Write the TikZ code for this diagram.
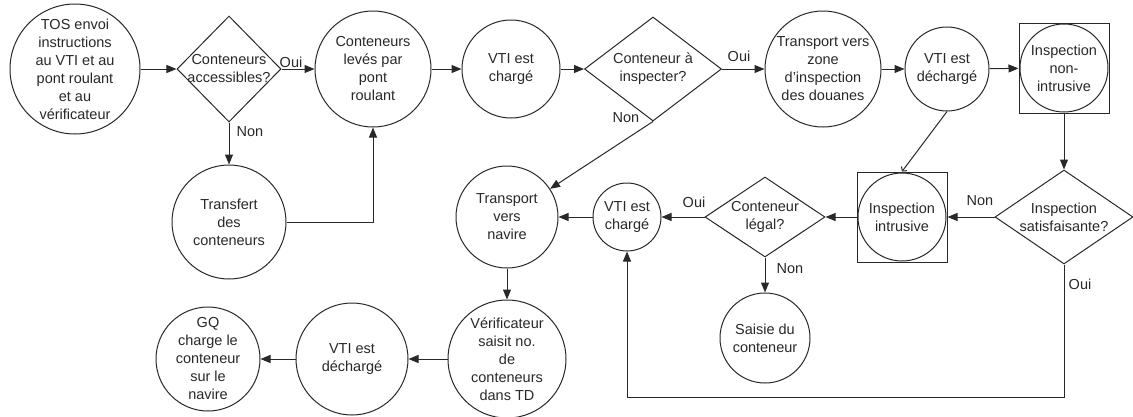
\documentclass[tikz,border=0pt]{standalone}
\usepackage{fontspec}
\setmainfont{Liberation Sans}
\usetikzlibrary{shapes.geometric,arrows.meta}
\definecolor{ink}{RGB}{40,40,40}
\begin{document}
\begin{tikzpicture}[x=1pt,y=-1pt,line width=1pt,
  circ/.style={circle,draw=ink,line width=1pt,inner sep=0pt,minimum size=#1},
  dia/.style 2 args={diamond,draw=ink,line width=1pt,inner sep=0pt,minimum width=#1,minimum height=#2},
  sq/.style={rectangle,draw=ink,line width=1pt,inner sep=0pt,minimum size=90pt},
  txt/.style={font=\fontsize{14.5}{18}\selectfont,text=ink,align=center,inner sep=0pt},
  lab/.style={font=\fontsize{14.5}{18}\selectfont,text=ink,inner sep=0pt},
  arr/.style={draw=ink,line width=1pt,-{Triangle[length=10pt,width=8pt]}},
  vee/.style={draw=ink,line width=1pt,-{Straight Barb[length=3pt,width=7pt]}}]
\useasboundingbox (0,0) rectangle (1133,416);
% top row
\node[circ=130pt,label={[txt]center:{TOS envoi\\instructions\\au VTI et au\\pont roulant\\et au\\vérificateur}}] (tos) at (75,69) {};
\node[dia={104pt}{106pt},label={[txt]center:{Conteneurs\\accessibles?}}] (d1) at (229,69) {};
\node[circ=116pt,label={[txt]center:{Conteneurs\\levés par\\pont\\roulant}}] (c3) at (373,69) {};
\node[circ=98pt,label={[txt]center:{VTI est\\chargé}}] (vti1) at (511,69) {};
\node[dia={137pt}{104pt},label={[txt]center:{Conteneur à\\inspecter?}}] (d2) at (653,69) {};
\node[circ=116pt,label={[txt]center:{Transport vers\\zone\\d’inspection\\des douanes}}] (zone) at (823,69) {};
\node[circ=84pt,label={[txt]center:{VTI est\\déchargé}}] (vtid1) at (947,69) {};
\node[sq] (nonint) at (1064,68) {};
\node[circ=88pt,label={[txt]center:{Inspection\\non-\\intrusive}}] (nonintc) at (1064,68) {};
% middle row
\node[circ=114pt,label={[txt]center:{Transfert\\des\\conteneurs}}] (transf) at (229,222) {};
\node[circ=102pt,label={[txt]center:{Transport\\vers\\navire}}] (tnav) at (507,217) {};
\node[circ=68pt,label={[txt]center:{VTI est\\chargé}}] (vti2) at (627,217) {};
\node[dia={120pt}{80pt},label={[txt]center:{Conteneur\\légal?}}] (legal) at (765,217) {};
\node[sq] (intr) at (902,217) {};
\node[circ=88pt,label={[txt]center:{Inspection\\intrusive}}] (intrc) at (902,217) {};
\node[dia={138pt}{94pt},label={[txt]center:{Inspection\\satisfaisante?}}] (sat) at (1064,217) {};
% bottom row
\node[circ=90pt,label={[txt]center:{Saisie du\\conteneur}}] (saisie) at (765,338) {};
\node[circ=118pt,label={[txt]center:{Vérificateur\\saisit no.\\de\\conteneurs\\dans TD}}] (verif) at (507,359) {};
\node[circ=112pt,label={[txt]center:{VTI est\\déchargé}}] (vtid2) at (352,359) {};
\node[circ=104pt,label={[txt]center:{GQ\\charge le\\conteneur\\sur le\\navire}}] (gq) at (208,359) {};
\coordinate (bot) at (1064,397);
% connectors
\draw[arr] (tos) -- (d1);
\draw[arr] (d1) -- (c3);
\draw[arr] (d1) -- (transf);
\draw[arr] (transf) -| (c3);
\draw[arr] (c3) -- (vti1);
\draw[arr] (vti1) -- (d2);
\draw[arr] (d2) -- (zone);
\draw[arr] (d2.south) -- (tnav);
\draw[arr] (zone) -- (vtid1);
\draw[arr] (vtid1) -- (nonint);
\draw[arr] (nonint) -- (sat);
\draw[arr] (sat) -- (intr);
\draw[vee] (vtid1.south) -- (intr.north);
\draw[arr] (intr) -- (legal);
\draw[arr] (legal) -- (vti2);
\draw[arr] (legal) -- (saisie);
\draw[arr] (sat.south) -- (bot) -| (vti2.south);
\draw[arr] (vti2) -- (tnav);
\draw[arr] (tnav) -- (verif);
\draw[arr] (verif) -- (vtid2);
\draw[arr] (vtid2) -- (gq);
% labels
\node[lab] (oui1) at (291,62) {Oui};
\node[lab] (non1) at (250,132) {Non};
\node[lab] (oui2) at (739,56) {Oui};
\node[lab] (non2) at (626,118) {Non};
\node[lab] (oui3) at (694,202) {Oui};
\node[lab] (non3) at (790,269) {Non};
\node[lab] (non4) at (980,201) {Non};
\node[lab] (oui4) at (1080,284) {Oui};
\end{tikzpicture}
\end{document}
